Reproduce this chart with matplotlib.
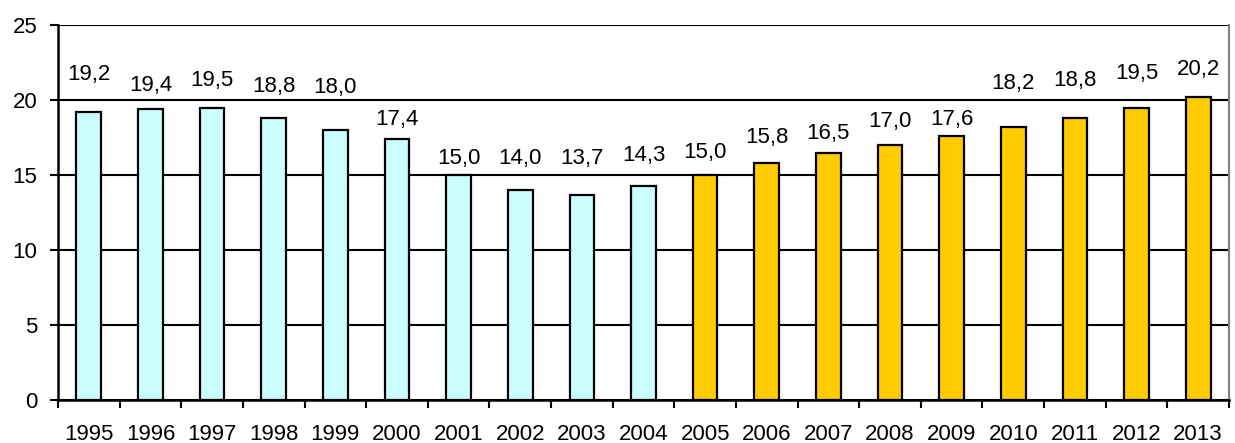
import matplotlib
matplotlib.use("Agg")
import matplotlib.pyplot as plt
import numpy as np

years = ["1995", "1996", "1997", "1998", "1999", "2000", "2001", "2002", "2003", "2004",
         "2005", "2006", "2007", "2008", "2009", "2010", "2011", "2012", "2013"]
values = [19.2, 19.4, 19.5, 18.8, 18.0, 17.4, 15.0, 14.0, 13.7, 14.3,
          15.0, 15.8, 16.5, 17.0, 17.6, 18.2, 18.8, 19.5, 20.2]
labels = ["19,2", "19,4", "19,5", "18,8", "18,0", "17,4", "15,0", "14,0", "13,7", "14,3",
          "15,0", "15,8", "16,5", "17,0", "17,6", "18,2", "18,8", "19,5", "20,2"]
n_first = 10  # first group (light cyan), rest gold

# label vertical placement (data units), as in the reference
label_pos = [21.67, 21.0, 21.27, 20.87, 20.8, 18.73, 16.07, 16.07, 16.07, 16.27,
             16.47, 17.47, 17.8, 18.6, 18.73, 21.13, 21.27, 21.8, 22.0]

plt.rcParams['font.family'] = ['Liberation Sans', 'DejaVu Sans']

fig = plt.figure(figsize=(12.35, 4.43), dpi=100)
ax = fig.add_axes([58/1235, 1 - 400/443, (1229 - 58)/1235, (400 - 25)/443])

x = np.arange(len(years))
colors = ["#CCFFFF"] * n_first + ["#FFCC00"] * (len(years) - n_first)
ax.bar(x, values, width=0.4, color=colors, edgecolor="black", linewidth=1.6, zorder=3)

for xi, lab, ly in zip(x, labels, label_pos):
    ax.text(xi, ly, lab, ha="center", va="center", fontsize=16, zorder=4)

ax.set_xlim(-0.5, len(years) - 0.5)
ax.set_ylim(0, 25)
ax.set_yticks([0, 5, 10, 15, 20, 25])
ax.yaxis.grid(True, color="black", linewidth=1.5, zorder=0)
ax.set_axisbelow(True)

ax.set_xticks(x)
ax.set_xticklabels(years)
ax.set_xticks(np.arange(-0.5, len(years), 1.0), minor=True)
ax.tick_params(axis="x", which="major", length=0, pad=17, labelsize=16)
ax.tick_params(axis="x", which="minor", length=6, width=1.5, color="black")
ax.tick_params(axis="y", length=6, width=1.5, pad=9, labelsize=16)

for s in ["left", "bottom"]:
    ax.spines[s].set_linewidth(1.8)
    ax.spines[s].set_color("black")
ax.spines["top"].set_visible(False)
ax.spines["right"].set_color("#808080")
ax.spines["right"].set_linewidth(1.5)

fig.savefig("out.png", dpi=100)
